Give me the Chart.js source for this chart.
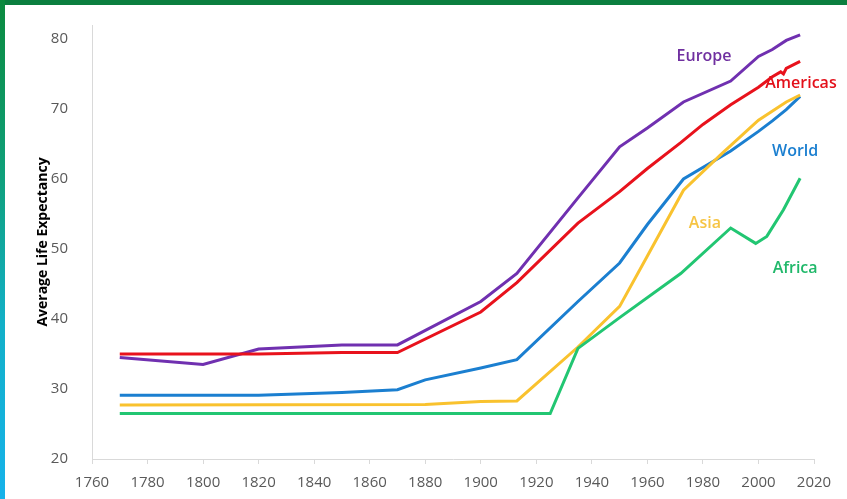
<!DOCTYPE html>
<html>
<head>
<meta charset="utf-8">
<script src="https://cdn.jsdelivr.net/npm/chart.js@4.4.0/dist/chart.umd.min.js"></script>
<style>
  html, body { margin: 0; padding: 0; background: #fff; }
  #wrap { position: relative; width: 847px; height: 499px; overflow: hidden; background: #fff; }
  #topbar { position: absolute; left: 0; top: 0; width: 847px; height: 5px; background: #0b7f3f; }
  #leftbar { position: absolute; left: 0; top: 0; width: 5px; height: 499px;
             background: linear-gradient(to bottom, #0b8a3e 0%, #0fa07a 35%, #12b0c8 65%, #16b2ea 100%); }
  #chartbox { position: absolute; left: 0; top: 0; width: 847px; height: 499px; }
</style>
</head>
<body>
<div id="wrap">
  <div id="chartbox"><canvas id="chart"></canvas></div>
  <div id="topbar"></div>
  <div id="leftbar"></div>
</div>
<script>
// Series data (years / life expectancy)
const europeYears  = [1770, 1800, 1820, 1850, 1870, 1900, 1913, 1935, 1950, 1960, 1973, 1990, 2000, 2005, 2010, 2015];
const europeValues = [34.5, 33.5, 35.7, 36.3, 36.3, 42.5, 46.5, 57.3, 64.6, 67.3, 71.0, 74.0, 77.5, 78.5, 79.8, 80.6];

const americasYears  = [1770, 1820, 1850, 1870, 1900, 1913, 1935, 1950, 1960, 1972, 1980, 1990, 2000, 2005, 2008, 2009, 2010, 2015];
const americasValues = [35.0, 35.0, 35.2, 35.2, 41.0, 45.2, 53.7, 58.2, 61.5, 65.2, 67.8, 70.6, 73.1, 74.6, 75.3, 75.0, 75.8, 76.8];

const worldYears  = [1770, 1820, 1850, 1870, 1880, 1900, 1913, 1935, 1950, 1960, 1973, 1990, 2000, 2005, 2010, 2015];
const worldValues = [29.1, 29.1, 29.5, 29.9, 31.3, 33.0, 34.2, 42.5, 48.0, 53.5, 60.0, 64.0, 66.8, 68.3, 69.9, 71.8];

const asiaYears  = [1770, 1880, 1900, 1913, 1935, 1950, 1960, 1973, 1987, 2000, 2010, 2015];
const asiaValues = [27.7, 27.8, 28.2, 28.3, 36.0, 41.8, 49.0, 58.4, 63.7, 68.4, 71.0, 72.0];

const africaYears  = [1770, 1925, 1935, 1950, 1972, 1990, 1999, 2003, 2009, 2015];
const africaValues = [26.5, 26.5, 35.8, 40.2, 46.5, 53.0, 50.8, 51.8, 55.6, 60.1];

const xTickMin = 1760, xTickMax = 2020, xStep = 20;
const yTickMin = 20, yTickMax = 80, yStep = 10;

// Series name labels, anchored in data coordinates
const seriesLabels = [
  { text: 'Europe',   x: 1980.4, y: 77.5, color: '#7030a0' },
  { text: 'Americas', x: 2015.3, y: 73.7, color: '#e3101a' },
  { text: 'World',    x: 2013.2, y: 63.9, color: '#1b7fd0' },
  { text: 'Asia',     x: 1980.7, y: 53.7, color: '#f6c443' },
  { text: 'Africa',   x: 2013.2, y: 47.2, color: '#20b86a' }
];

const zip = (xs, ys) => xs.map((x, i) => ({ x: x, y: ys[i] }));

const lineLabels = {
  id: 'lineLabels',
  afterDatasetsDraw(chart) {
    const { ctx, scales: { x, y } } = chart;
    ctx.save();
    ctx.font = "600 16px 'Open Sans', sans-serif";
    ctx.textAlign = 'center';
    ctx.textBaseline = 'middle';
    seriesLabels.forEach(l => {
      ctx.fillStyle = l.color;
      ctx.fillText(l.text, x.getPixelForValue(l.x), y.getPixelForValue(l.y));
    });
    ctx.restore();
  }
};

const mk = (xs, ys, color) => ({
  data: zip(xs, ys),
  borderColor: color,
  borderWidth: 3,
  pointRadius: 0,
  tension: 0,
  fill: false
});

new Chart(document.getElementById('chart'), {
  type: 'line',
  data: {
    datasets: [
      mk(africaYears, africaValues, '#22c672'),
      mk(asiaYears, asiaValues, '#f9c22e'),
      mk(worldYears, worldValues, '#1b7fd0'),
      mk(americasYears, americasValues, '#e8121c'),
      mk(europeYears, europeValues, '#7030b0')
    ]
  },
  options: {
    responsive: true,
    maintainAspectRatio: false,
    animation: false,
    layout: { padding: { left: 8, right: 33, top: 25, bottom: 0 } },
    plugins: { legend: { display: false }, tooltip: { enabled: false } },
    scales: {
      x: {
        type: 'linear',
        min: xTickMin,
        max: xTickMax,
        afterFit: (s) => { s.height = 40; },
        ticks: {
          stepSize: xStep,
          color: '#595959',
          padding: 10,
          maxRotation: 0,
          font: { family: "'Open Sans', sans-serif", size: 15 },
          callback: (v) => String(v)
        },
        grid: { display: true, drawOnChartArea: false, drawTicks: true, tickLength: 5, color: '#d9d9d9' },
        border: { color: '#d9d9d9', width: 1 }
      },
      y: {
        min: yTickMin,
        max: 82,
        afterFit: (s) => { s.width = 84; },
        ticks: {
          stepSize: yStep,
          includeBounds: false,
          color: '#595959',
          padding: 16,
          font: { family: "'Open Sans', sans-serif", size: 15 }
        },
        grid: { display: false },
        border: { color: '#d9d9d9', width: 1 },
        title: {
          display: true,
          text: 'Average Life Expectancy',
          color: '#000',
          padding: { top: 27, bottom: 0 },
          font: { family: "'Open Sans', sans-serif", size: 14, weight: 'bold' }
        }
      }
    }
  },
  plugins: [lineLabels]
});
</script>
</body>
</html>
